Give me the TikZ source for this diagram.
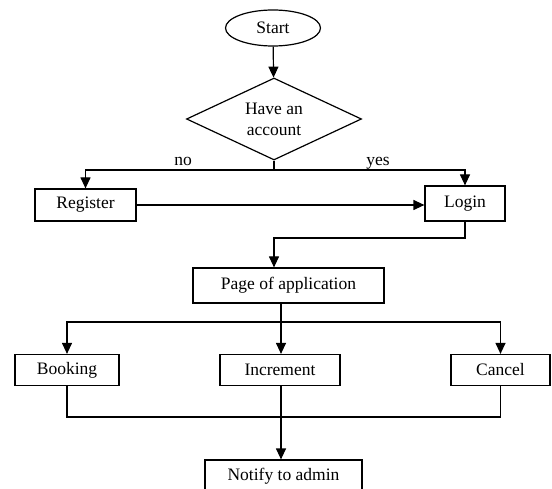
\documentclass[tikz,border=0pt]{standalone}
\usepackage{fontspec}
\setmainfont{Liberation Serif}
\usetikzlibrary{shapes.geometric,arrows.meta}

\begin{document}
\begin{tikzpicture}[x=1pt,y=-1pt,
    font=\fontsize{17.5}{21}\selectfont,
    line width=1.2pt,
    box/.style={draw,rectangle,inner sep=0pt,minimum height=32pt},
    term/.style={draw,ellipse,inner sep=0pt,minimum width=95pt,minimum height=36pt},
    decision/.style={draw,diamond,inner sep=0pt,aspect=2.13,minimum width=175pt,minimum height=82pt,align=center},
    arr/.style={-{Triangle[length=11pt,width=10pt]}},
    lbl/.style={inner sep=0pt,anchor=base}]
    \useasboundingbox (0,0) rectangle (552,489);
    \clip (0,0) rectangle (552,489);

    \node[term] (start) at (273,28)
            {Start};
    \node[decision] (acc) at (274,119)
            {Have an\\account};
    \node[box,minimum width=101pt] (reg) at (85.5,205)
            {Register};
    \node[box,minimum width=80pt,minimum height=35pt] (login) at (465,203.5)
            {Login};
    \node[box,minimum width=191pt,minimum height=35pt] (page) at (288.5,285.5)
            {Page of application};
    \node[box,minimum width=104pt,minimum height=31pt] (book) at (67,370)
            {Booking};
    \node[box,minimum width=120pt,minimum height=31pt] (inc) at (280,370)
            {Increment};
    \node[box,minimum width=99pt,minimum height=31pt] (cancel) at (500.5,370)
            {Cancel};
    \node[box,minimum width=157pt] (notify) at (283.5,476)
            {Notify to admin};

    \coordinate (j0) at (274,170);
    \coordinate (j1) at (274,238);
    \coordinate (j2) at (281,322);
    \coordinate (j3) at (281,417);

    \draw[arr] (start) -- (acc);
    \draw (acc.south) -- (j0);
    \draw[arr] (j0) -| (reg.north);
    \draw[arr] (j0) -| (login.north);
    \node[lbl] (no) at (183,166) {no};
    \node[lbl] (yes) at (378,166) {yes};
    \draw[arr] (reg.east) -- (reg.east -| login.west);
    \draw[arr] (login.south) |- (j1) -- (j1 |- page.north);
    \draw (j2 |- page.south) -- (j2);
    \draw[arr] (j2) -| (book.north);
    \draw[arr] (j2) -- (j2 |- inc.north);
    \draw[arr] (j2) -| (cancel.north);
    \draw (book.south) |- (j3) -| (cancel.south);
    \draw[arr] (inc.south -| j3) -- (j3 |- notify.north);
\end{tikzpicture}
\end{document}
